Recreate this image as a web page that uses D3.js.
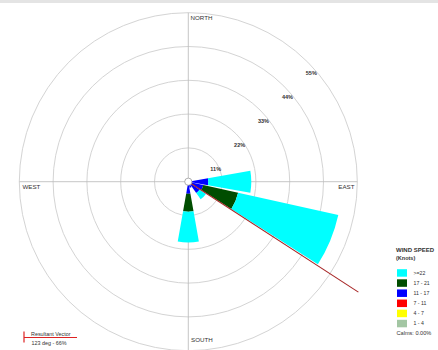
<!DOCTYPE html>
<html>
<head>
<meta charset="utf-8">
<script src="https://cdn.jsdelivr.net/npm/d3@7/dist/d3.min.js"></script>
<style>
  html, body { margin: 0; padding: 0; background: #fff; }
  svg { display: block; font-family: "Liberation Sans", Arial, sans-serif; }
</style>
</head>
<body>
<svg id="rose" width="438" height="350"></svg>
<script>
// Compass sectors (16-point rose), clockwise from north
const directions = ["N","NNE","NE","ENE","E","ESE","SE","SSE","S","SSW","SW","WSW","W","WNW","NW","NNW"];

// Wind speed classes (knots), innermost first
const speedBands = ["1 - 4", "4 - 7", "7 - 11", "11 - 17", "17 - 21", ">=22"];
const bandColors = ["#a3c6a3", "#ffff00", "#ff0000", "#0000ff", "#004d00", "#00ffff"];

// Frequency (%) of each speed class per direction
const freq1to4   = [0,0,0,0,0,   0,   0,  0,  0,  0,  0,0,0,0,0,0];
const freq4to7   = [0,0,0,0,0,   0,   0,  0,  0,  0,  0,0,0,0,0,0];
const freq7to11  = [0,0,0,0,0,   0,   0,  0,  0,  0,  0,0,0,0,0,0];
const freq11to17 = [0,0,0,0,6.5, 5.0, 4.5,2.0,3.9,0.5,0,0,0,0,0,0];
const freq17to21 = [0,0,0,0,0,   11.6,0,  0,  5.9,0,  0,0,0,0,0,0];
const freq22plus = [0,0,0,0,14.0,33.4,2.5,0,  10.0,0, 0,0,0,0,0,0];

// Ring ticks (%)
const ringTicks = [11, 22, 33, 44, 55];
const ringLabels = ["11%", "22%", "33%", "44%", "55%"];

// Compass labels
const compassLabels = ["NORTH", "EAST", "SOUTH", "WEST"];

// Resultant vector and calms
const resultantDeg = 123;
const resultantPct = 66;
const calmsText = "Calms: 0.00%";

const svg = d3.select("#rose");
const W = 438, H = 350;
const cx = 188.3, cy = 181.7;
const outerR = 169;

// faint header strip
svg.append("rect").attr("x", 0).attr("y", 0).attr("width", W).attr("height", 3).attr("fill", "#e4e4e4");

const r = d3.scaleLinear().domain([0, 55]).range([0, outerR]);
const angle = d3.scaleLinear().domain([0, directions.length]).range([0, 2 * Math.PI]);
const halfWidth = (10 / 180) * Math.PI;

const g = svg.append("g").attr("transform", `translate(${cx},${cy})`);

// grid rings
g.selectAll("circle.ring").data(ringTicks).join("circle")
  .attr("class", "ring")
  .attr("r", d => r(d))
  .attr("fill", "none")
  .attr("stroke", "#d4d4d4")
  .attr("stroke-width", 1);

// crosshair axes
g.append("line").attr("x1", 0).attr("x2", 0).attr("y1", -r(55)).attr("y2", H)
  .attr("stroke", "#b8b8b8").attr("stroke-width", 0.8);
g.append("line").attr("x1", -r(55)).attr("x2", r(55)).attr("y1", 0).attr("y2", 0)
  .attr("stroke", "#b8b8b8").attr("stroke-width", 0.8);

// stacked petals
const table = directions.map((dir, i) => ({
  dir, i,
  "1 - 4": freq1to4[i], "4 - 7": freq4to7[i], "7 - 11": freq7to11[i],
  "11 - 17": freq11to17[i], "17 - 21": freq17to21[i], ">=22": freq22plus[i]
}));
const series = d3.stack().keys(speedBands)(table);
const arc = d3.arc();

g.selectAll("g.band").data(series).join("g")
  .attr("class", "band")
  .attr("fill", (s, k) => bandColors[k])
  .selectAll("path").data(s => s.filter(d => d[1] - d[0] > 0)).join("path")
  .attr("d", d => arc({
    innerRadius: r(d[0]),
    outerRadius: r(d[1]),
    startAngle: angle(d.data.i) - halfWidth,
    endAngle: angle(d.data.i) + halfWidth
  }));

// resultant vector
const ra = resultantDeg * Math.PI / 180;
g.append("line")
  .attr("x1", 0).attr("y1", 0)
  .attr("x2", r(resultantPct) * Math.sin(ra))
  .attr("y2", -r(resultantPct) * Math.cos(ra))
  .attr("stroke", "#a82828").attr("stroke-width", 1.1);

// calm circle
g.append("circle").attr("r", 3.6).attr("fill", "#fff").attr("stroke", "#9a9a9a").attr("stroke-width", 0.8);

// ring labels along the NE diagonal
g.selectAll("text.ringlab").data(ringTicks).join("text")
  .attr("class", "ringlab")
  .attr("x", d => r(d) * Math.SQRT1_2 + 3.5)
  .attr("y", d => -r(d) * Math.SQRT1_2 + 13)
  .attr("text-anchor", "middle")
  .attr("font-size", 5.5).attr("font-weight", "bold").attr("fill", "#333")
  .text((d, k) => ringLabels[k]);

// compass labels
const compassPos = [
  { x: 190.5, y: 20.3, anchor: "start" },
  { x: 354.5, y: 189.3, anchor: "end" },
  { x: 191, y: 342, anchor: "start" },
  { x: 22.5, y: 189.3, anchor: "start" }
];
svg.selectAll("text.compass").data(compassLabels).join("text")
  .attr("class", "compass")
  .attr("x", (d, k) => compassPos[k].x)
  .attr("y", (d, k) => compassPos[k].y)
  .attr("text-anchor", (d, k) => compassPos[k].anchor)
  .attr("font-size", 6.2).attr("fill", "#333")
  .text(d => d);

// legend
const lg = svg.append("g").attr("transform", "translate(396,0)");
lg.append("text").attr("x", 0).attr("y", 252.3).attr("font-size", 6).attr("font-weight", "bold").attr("fill", "#333").text("WIND SPEED");
lg.append("text").attr("x", 0).attr("y", 259.8).attr("font-size", 5.5).attr("font-weight", "bold").attr("fill", "#333").text("(Knots)");

const legendOrder = speedBands.map((b, k) => ({ b, c: bandColors[k] })).reverse();
const rowY = d3.scalePoint().domain(legendOrder.map(d => d.b)).range([272.7, 323.3]);
const rows = lg.selectAll("g.row").data(legendOrder).join("g").attr("class", "row");
rows.append("rect")
  .attr("x", 1).attr("y", d => rowY(d.b) - 3.5)
  .attr("width", 10).attr("height", 7.5)
  .attr("fill", d => d.c);
rows.append("text")
  .attr("x", 17.5).attr("y", d => rowY(d.b) + 1.8)
  .attr("font-size", 5.2).attr("fill", "#333")
  .text(d => d.b);
lg.append("text").attr("x", 0.5).attr("y", 335.3).attr("font-size", 5.6).attr("fill", "#333").text(calmsText);

// resultant vector key
const rv = svg.append("g");
rv.append("line").attr("x1", 24).attr("x2", 24).attr("y1", 331.5).attr("y2", 342.5).attr("stroke", "#d22").attr("stroke-width", 1.2);
rv.append("line").attr("x1", 24).attr("x2", 77).attr("y1", 337.5).attr("y2", 337.5).attr("stroke", "#d22").attr("stroke-width", 1);
rv.append("text").attr("x", 31).attr("y", 336).attr("font-size", 5.4).attr("fill", "#333").text("Resultant Vector");
rv.append("text").attr("x", 31.5).attr("y", 345.3).attr("font-size", 5.4).attr("fill", "#333").text(`${resultantDeg} deg - ${resultantPct}%`);
</script>
</body>
</html>
